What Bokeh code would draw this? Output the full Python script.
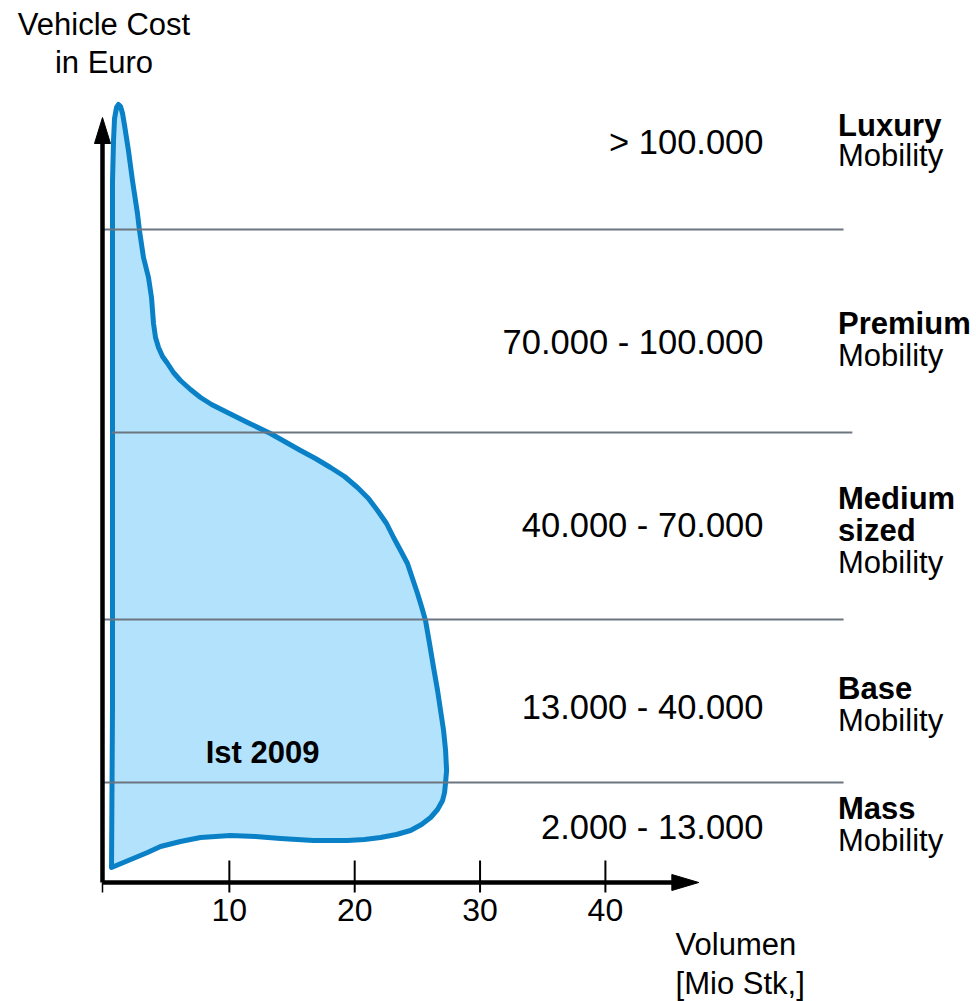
from bokeh.plotting import figure
from bokeh.models import Range1d
from bokeh.core.properties import value
from bokeh.embed import file_html
from bokeh.resources import INLINE

# ---------------- data ----------------
# outline of the "Ist 2009" volume distribution (x: Mio Stk, y: vertical cost position)
outline_x = [0.60, 0.68, 0.68, 0.68, 0.68, 0.76, 0.84, 1.00, 1.16, 1.32, 1.48, 1.64, 1.95,
             2.27, 2.67, 2.83, 3.15, 3.55, 3.79, 3.95, 4.11, 4.35, 4.67, 5.07, 5.54, 6.10,
             6.90, 7.70, 8.58, 9.53, 11.45, 13.28, 15.68, 16.87, 18.07, 19.19, 20.22, 21.10,
             21.82, 22.54, 23.10, 23.66, 24.21, 24.61, 25.01, 25.33, 25.65, 25.97, 26.29,
             26.61, 26.85, 27.09, 27.25, 27.33, 27.25, 27.17, 27.01, 26.61, 26.06, 25.33,
             24.45, 23.33, 22.06, 20.78, 19.43, 16.71, 14.08, 12.09, 10.09, 7.70, 6.10,
             4.51, 3.47]
outline_y = [15, 182, 382, 582, 702, 742, 764, 775, 778, 776, 769, 757, 732,
             702, 669, 652, 625, 605, 585, 559, 545, 535, 526, 519, 510, 502,
             493, 485, 478, 472, 460, 449, 432, 424, 415, 406, 395, 384,
             372, 359, 345, 332, 319, 304, 289, 276, 262, 239, 215,
             192, 172, 152, 132, 112, 100, 90, 82, 73, 65, 58,
             52, 48, 45, 43, 42, 42, 44, 46, 47, 45, 41,
             36, 30]

# band boundaries (vertical position) and their horizontal extents
boundary_y = [653, 450, 263, 100]
boundary_x0 = [0.0, 0.6, 0.0, 0.0]
boundary_x1 = [59.0, 59.7, 59.0, 59.0]

# price ranges per band
range_labels = ["> 100.000", "70.000 - 100.000", "40.000 - 70.000", "13.000 - 40.000", "2.000 - 13.000"]
range_y = [741, 541, 358, 176, 56]

# segment names (bold) and the "Mobility" line
segment_bold = ["Luxury", "Premium", "Medium", "sized", "Base", "Mass"]
segment_bold_y = [757, 559, 384, 352, 194, 74]
segment_sub = ["Mobility", "Mobility", "Mobility", "Mobility", "Mobility"]
segment_sub_y = [727, 527, 320, 162, 42]

x_ticks = [10, 20, 30, 40]
x_tick_labels = ["10", "20", "30", "40"]

series_label = "Ist 2009"

# ---------------- figure ----------------
X_SCALE = 12.535  # px per Mio Stk
p = figure(width=976, height=1001,
           x_range=Range1d(-8.257, 69.605), y_range=Range1d(-119, 882),
           x_axis_type=None, y_axis_type=None,
           output_backend="svg", toolbar_location=None, min_border=0)
p.grid.visible = False
p.outline_line_color = None
p.background_fill_color = "white"
p.border_fill_color = "white"

FONT = value("Liberation Sans")
FS = "31px"

# distribution shape
p.patch(outline_x, outline_y, fill_color="#b3e3fc", line_color="#0a80c6",
        line_width=5, line_join="round")

# band boundaries
p.segment(x0=boundary_x0, y0=boundary_y, x1=boundary_x1, y1=boundary_y,
          line_color="#6d7680", line_width=2)

# axes
ax0 = -0.12
x_end, x_tip = 45.3, 47.45
y_end, y_tip = 739, 765
p.segment(x0=[ax0, ax0], y0=[0, 0], x1=[x_end + 0.3, ax0], y1=[0, y_end + 4],
          line_color="black", line_width=4.5)
p.patch([x_end, x_tip, x_end], [8, 0, -8], fill_color="black", line_color="black", line_width=1)
hw = 8 / X_SCALE
p.patch([ax0 - hw, ax0, ax0 + hw], [y_end, y_tip, y_end], fill_color="black",
        line_color="black", line_width=1)

# ticks
p.segment(x0=x_ticks, y0=[-10] * len(x_ticks), x1=x_ticks, y1=[22] * len(x_ticks),
          line_color="black", line_width=2)
p.segment(x0=[ax0], y0=[-10], x1=[ax0], y1=[0], line_color="black", line_width=1.5)
p.text(x=x_ticks, y=[-27] * len(x_ticks), text=x_tick_labels, text_font=FONT,
       text_font_size="32px", text_align="center", text_baseline="middle", text_color="black")

# axis titles
p.text(x=[0, 0], y=[858, 820], text=["Vehicle Cost", "in Euro"], text_font=FONT,
       text_font_size=FS, text_align="center", text_baseline="middle", text_color="black")
p.text(x=[45.6, 45.6], y=[-62, -101], text=["Volumen", "[Mio Stk,]"], text_font=FONT,
       text_font_size=FS, text_align="left", text_baseline="middle", text_color="black")

# price ranges
p.text(x=[52.61] * len(range_labels), y=range_y, text=range_labels, text_font=FONT,
       text_font_size="34.5px", text_align="right", text_baseline="middle", text_color="black")

# segment names
p.text(x=[58.56] * len(segment_bold), y=segment_bold_y, text=segment_bold, text_font=FONT,
       text_font_size=FS, text_font_style="bold", text_align="left", text_baseline="middle",
       text_color="black")
p.text(x=[58.56] * len(segment_sub), y=segment_sub_y, text=segment_sub, text_font=FONT,
       text_font_size=FS, text_align="left", text_baseline="middle", text_color="black")

# series label
p.text(x=[12.65], y=[130], text=[series_label], text_font=FONT, text_font_size=FS,
       text_font_style="bold", text_align="center", text_baseline="middle", text_color="black")

open("out.html", "w").write(file_html(p, INLINE))
